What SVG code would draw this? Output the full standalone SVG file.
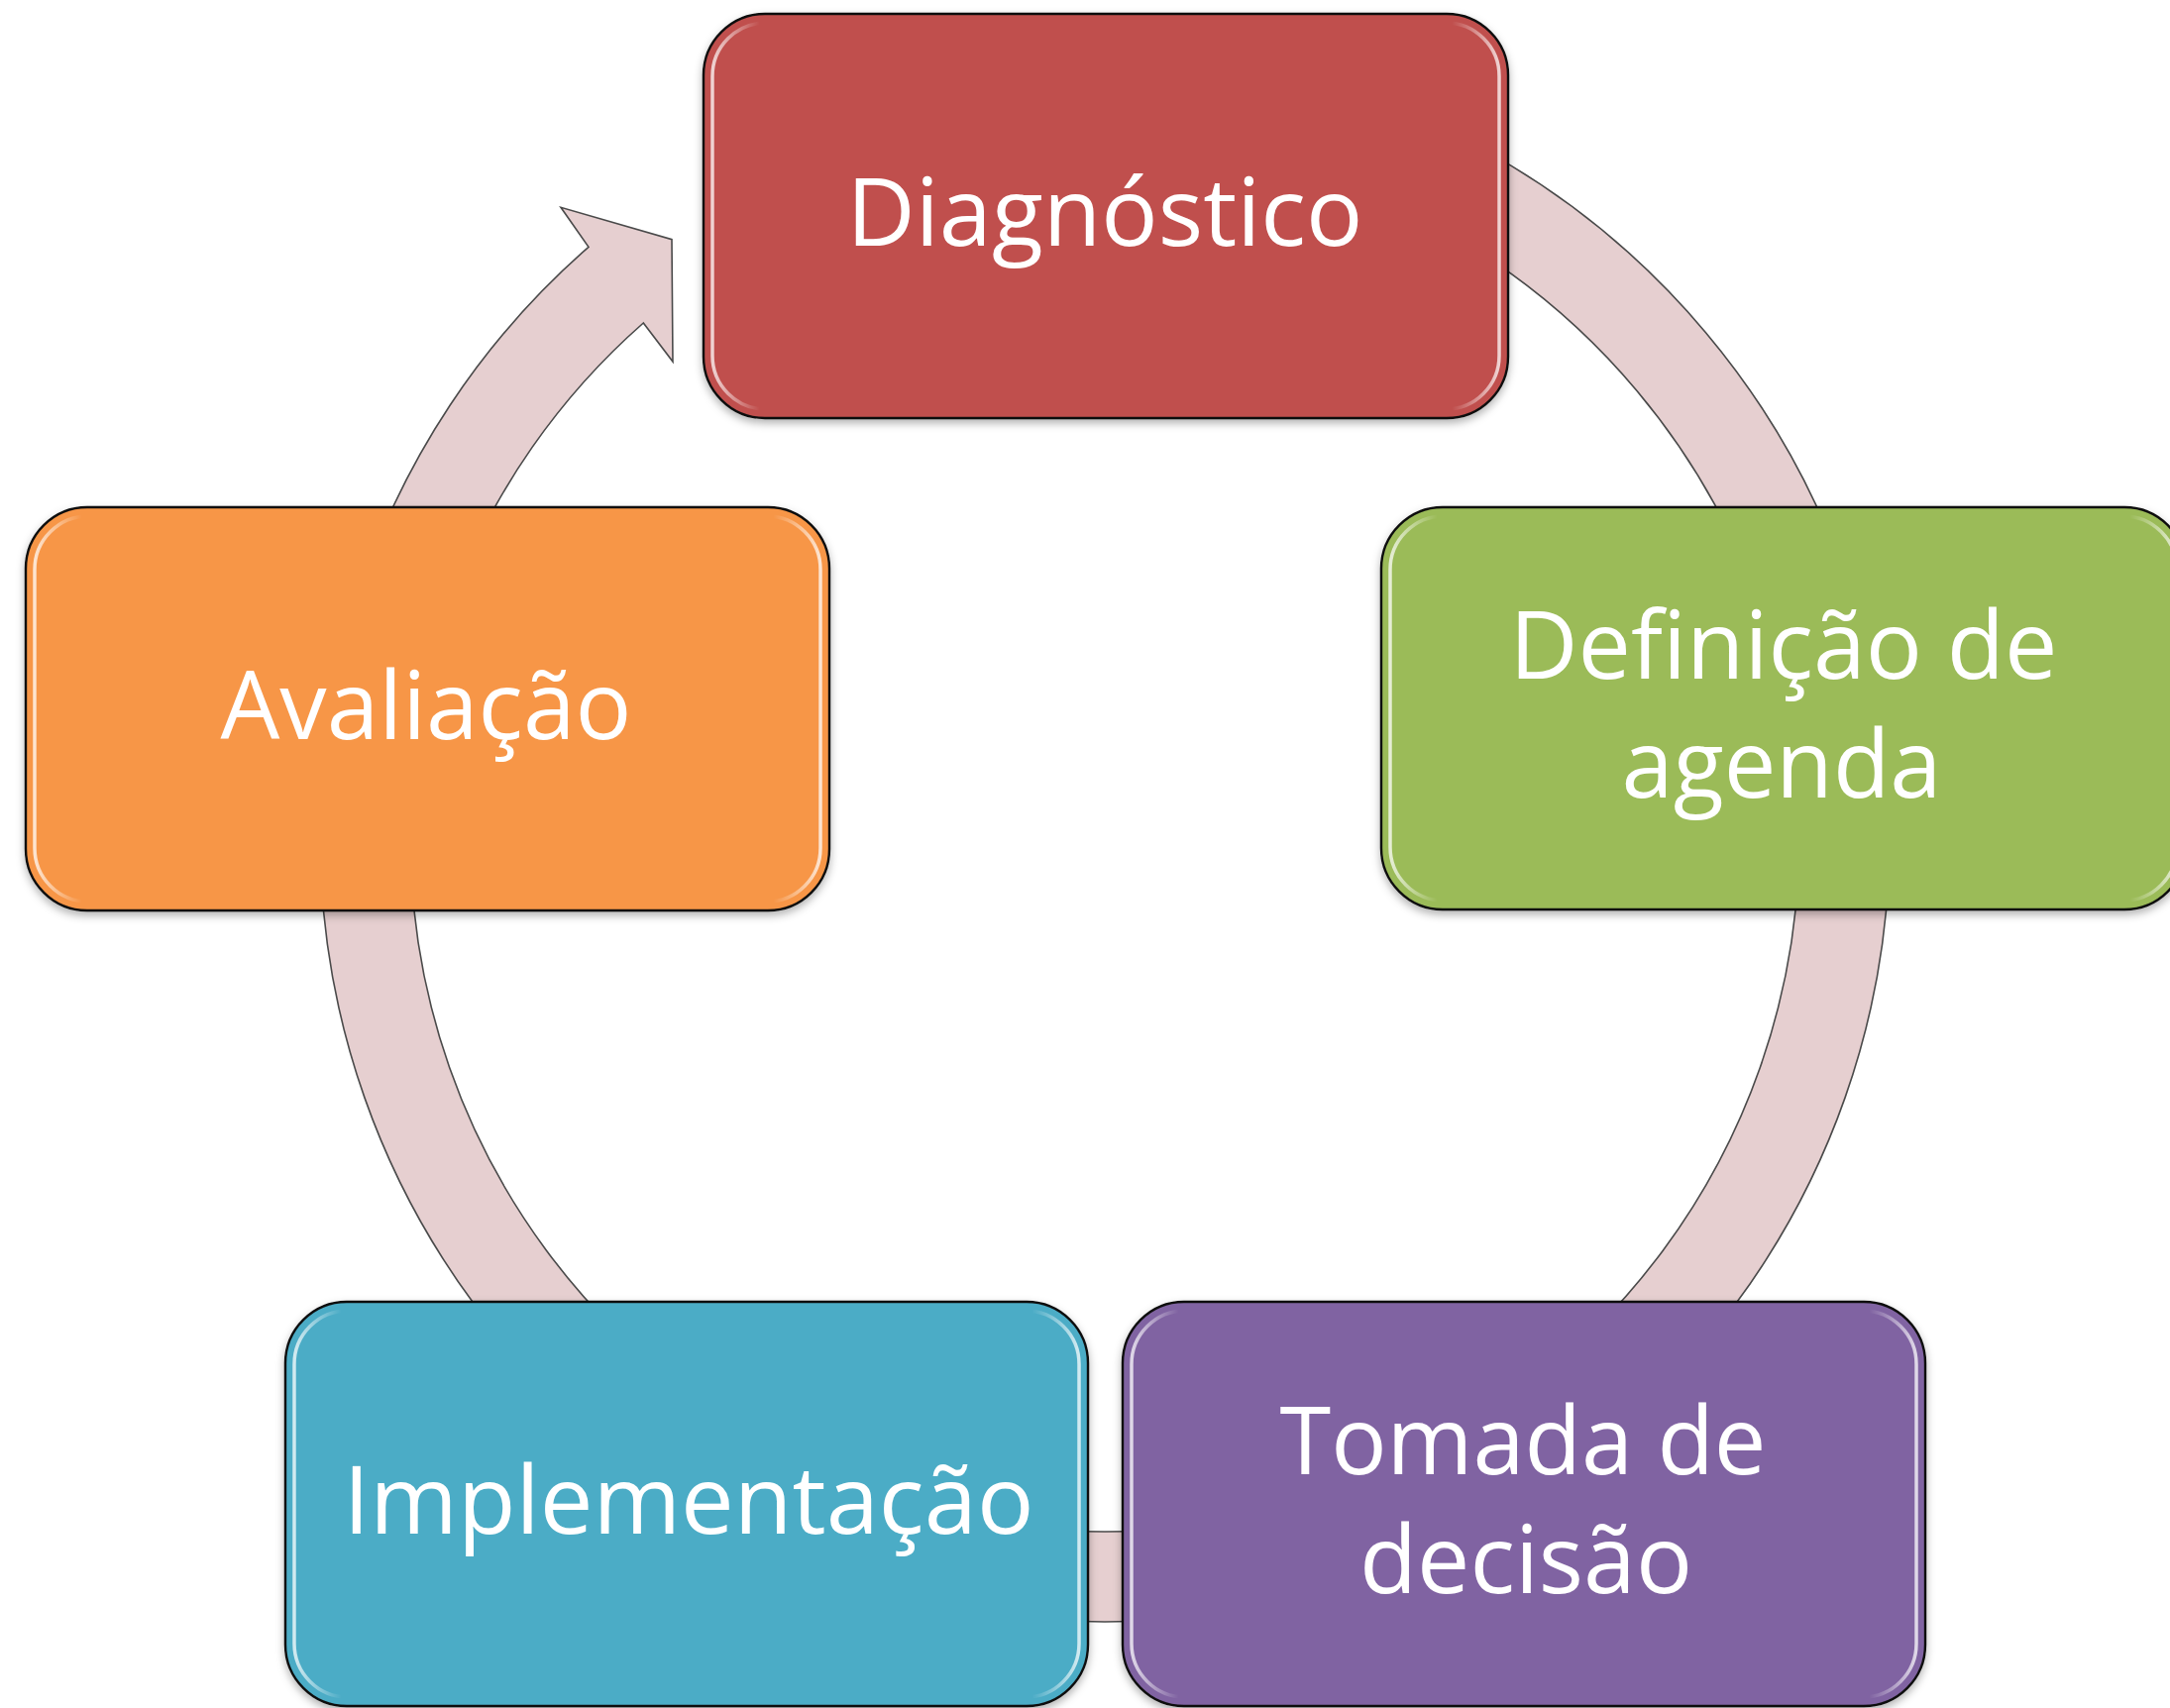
<svg xmlns="http://www.w3.org/2000/svg" width="2190" height="1724" viewBox="0 0 2190 1724">
<style>
.ring{fill:#E6CFD0;stroke:#4a4a4a;stroke-width:1.6;stroke-linejoin:miter}
.box{stroke:#111111;stroke-width:2.4}
.hl{fill:none;stroke:url(#hlg);stroke-width:3.5}
.lbl{font-family:"Open Sans","Noto Sans","Liberation Sans",sans-serif;font-size:96px;fill:#ffffff;text-anchor:middle}
</style>
<defs>
<linearGradient id="hlg" x1="0" y1="0" x2="1" y2="0">
<stop offset="0" stop-color="#ffffff" stop-opacity="0.75"/>
<stop offset="0.06" stop-color="#ffffff" stop-opacity="0"/>
<stop offset="0.94" stop-color="#ffffff" stop-opacity="0"/>
<stop offset="1" stop-color="#ffffff" stop-opacity="0.75"/>
</linearGradient>
<filter id="sh" x="-5%" y="-5%" width="110%" height="115%">
<feDropShadow dx="0" dy="4" stdDeviation="4" flood-color="#000" flood-opacity="0.3"/>
</filter>
</defs>
<rect width="2190" height="1724" fill="#ffffff"/>
<g id="connectors">
<path class="ring" d="M1449.7,127.2 A792,792 0 0 1 1880,640 L1792.1,663.6 A701,701 0 0 0 1411.3,209.7 Z"/>
<path class="ring" d="M1905.9,886.5 A792,792 0 0 1 1385.9,1589.2 L1354.8,1503.7 A701,701 0 0 0 1815,881.7 Z"/>
<path class="ring" d="M1225.2,1629.3 A792,792 0 0 1 1004.8,1629.3 L1017.4,1539.2 A701,701 0 0 0 1212.6,1539.2 Z"/>
<path class="ring" d="M844.1,1589.2 A792,792 0 0 1 324.1,886.5 L415,881.7 A701,701 0 0 0 874.2,1503.7 Z"/>
<path class="ring" d="M361.8,600 A792,792 0 0 1 594,249.3 L566,209.3 L678,241.7 L679,365 L649.3,326 A699,699 0 0 0 458.2,600 Z"/>
</g>
<g id="node-diagnostico">
<rect class="box" x="710" y="14" width="812" height="408" rx="62" fill="#C0504D" filter="url(#sh)"/>
<rect class="hl" x="719" y="23" width="794" height="390" rx="54"/>
<text class="lbl" x="1115" y="248" textLength="521" lengthAdjust="spacingAndGlyphs">Diagnóstico</text>
</g>
<g id="node-definicao">
<rect class="box" x="1394" y="512" width="812" height="406" rx="62" fill="#9BBB59" filter="url(#sh)"/>
<rect class="hl" x="1403" y="521" width="794" height="388" rx="54"/>
<text class="lbl" x="1800" y="685" textLength="553" lengthAdjust="spacingAndGlyphs">Definição de</text>
<text class="lbl" x="1798" y="805" textLength="323" lengthAdjust="spacingAndGlyphs">agenda</text>
</g>
<g id="node-tomada">
<rect class="box" x="1133" y="1314" width="810" height="408" rx="62" fill="#8064A2" filter="url(#sh)"/>
<rect class="hl" x="1142" y="1323" width="792" height="390" rx="54"/>
<text class="lbl" x="1537" y="1488" textLength="491" lengthAdjust="spacingAndGlyphs">Tomada de</text>
<text class="lbl" x="1540" y="1608" textLength="336" lengthAdjust="spacingAndGlyphs">decisão</text>
</g>
<g id="node-implementacao">
<rect class="box" x="288" y="1314" width="810" height="408" rx="62" fill="#4BACC6" filter="url(#sh)"/>
<rect class="hl" x="297" y="1323" width="792" height="390" rx="54"/>
<text class="lbl" x="695" y="1548" textLength="697" lengthAdjust="spacingAndGlyphs">Implementação</text>
</g>
<g id="node-avaliacao">
<rect class="box" x="26" y="512" width="811" height="407" rx="62" fill="#F79646" filter="url(#sh)"/>
<rect class="hl" x="35" y="521" width="793" height="389" rx="54"/>
<text class="lbl" x="430" y="746" textLength="415" lengthAdjust="spacingAndGlyphs">Avaliação</text>
</g>
</svg>
